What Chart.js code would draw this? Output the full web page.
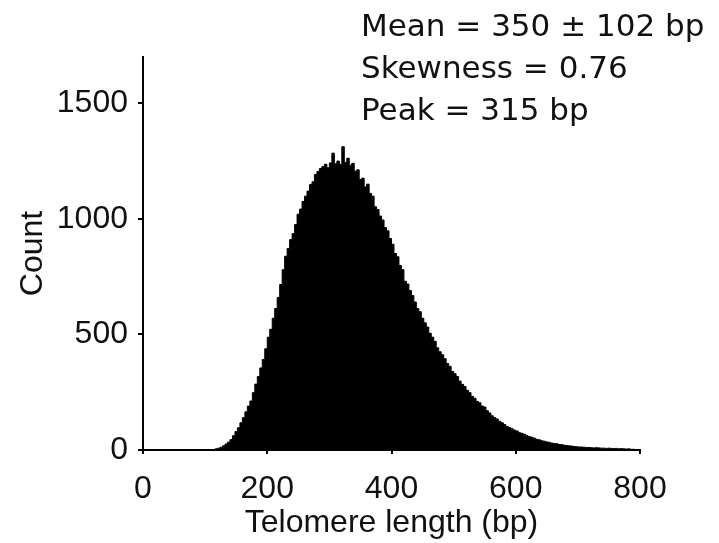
<!DOCTYPE html>
<html>
<head>
<meta charset="utf-8">
<script src="https://cdn.jsdelivr.net/npm/chart.js@4"></script>
<style>
  html, body { margin: 0; padding: 0; background: #fff; }
  #wrap { width: 719px; height: 543px; }
</style>
</head>
<body>
<div id="wrap"><canvas id="telomereHist"></canvas></div>
<script>
// Histogram bins (bp), left edge of first bin and bin width
const binStart = 112;
const binWidth = 4;

// Counts per bin
const counts = [
    2, 5, 8, 12, 18, 26, 34, 45, 62, 80,
    96, 118, 140, 165, 190, 212, 248, 285, 318, 355,
    392, 438, 488, 522, 570, 612, 660, 716, 780, 838,
    872, 910, 936, 975, 1020, 1042, 1075, 1098, 1120, 1148,
    1160, 1192, 1205, 1218, 1226, 1236, 1221, 1242, 1284, 1238,
    1250, 1236, 1312, 1244, 1262, 1232, 1240, 1206, 1212, 1170,
    1176, 1138, 1150, 1110, 1098, 1052, 1040, 1012, 995, 962,
    948, 915, 890, 850, 836, 798, 780, 730, 718, 690,
    668, 640, 612, 598, 570, 550, 532, 505, 488, 470,
    442, 425, 412, 395, 374, 362, 340, 330, 318, 298,
    284, 275, 258, 248, 232, 224, 210, 204, 190, 186,
    170, 160, 148, 140, 134, 124, 118, 110, 102, 97,
    92, 86, 82, 75, 72, 68, 62, 58, 55, 51,
    46, 44, 40, 38, 35, 33, 30, 28, 27, 24,
    23, 21, 19, 18, 17, 15, 14, 13, 13, 12,
    11, 11, 10, 9, 10, 9, 8, 8, 7, 8,
    7, 6, 7, 5, 6, 5, 4, 5, 3, 3,
    2, 2
];

// Axis ticks
const xTicks = [0, 200, 400, 600, 800];
const yTicks = [0, 500, 1000, 1500];

// Summary text in the top right
const statsLines = ['Mean = 350 \u00b1 102 bp', 'Skewness = 0.76', 'Peak = 315 bp'];

// Build step points: one per bin left edge, plus the closing edge
const histPoints = counts.map((c, i) => ({ x: binStart + i * binWidth, y: c }));
histPoints.push({ x: binStart + counts.length * binWidth, y: 0 });

const FONT = "'Liberation Sans', Arial, Helvetica, sans-serif";

// Stats text plugin
const statsText = {
    id: 'statsText',
    afterDraw(chart) {
        const ctx = chart.ctx;
        ctx.save();
        ctx.fillStyle = '#111';
        ctx.font = "31px 'DejaVu Sans', sans-serif";
        ctx.textAlign = 'left';
        ctx.textBaseline = 'alphabetic';
        const baselines = [36, 78, 120];
        statsLines.forEach((t, i) => ctx.fillText(t, 361, baselines[i]));
        ctx.restore();
    }
};

const histConfig = {
    type: 'line',
    data: {
        datasets: [{
            label: 'Count',
            data: histPoints,
            stepped: 'before',
            fill: 'origin',
            backgroundColor: '#000',
            borderColor: '#000',
            borderWidth: 1,
            pointRadius: 0,
        }]
    },
    options: {
        responsive: true,
        maintainAspectRatio: false,
        animation: false,
        layout: {
            padding: { top: 57, right: 79, left: 0, bottom: 0 }
        },
        plugins: {
            legend: { display: false },
            tooltip: { enabled: false }
        },
        scales: {
            x: {
                type: 'linear',
                min: 0,
                max: 800,
                afterFit: scale => { scale.height = 93; },
                afterBuildTicks: scale => { scale.ticks = xTicks.map(v => ({ value: v })); },
                border: { display: true, color: '#000', width: 2 },
                grid: { drawOnChartArea: false, drawTicks: true, tickLength: 4, color: '#000', lineWidth: 2 },
                ticks: {
                    color: '#111',
                    padding: 16,
                    maxRotation: 0,
                    callback: v => String(v),
                    font: { family: FONT, size: 32 }
                },
                title: {
                    display: true,
                    text: 'Telomere length (bp)',
                    color: '#111',
                    padding: { top: 0, bottom: 1 },
                    font: { family: FONT, size: 32 }
                }
            },
            y: {
                type: 'linear',
                min: 0,
                max: 1700,
                afterFit: scale => { scale.width = 143; },
                afterBuildTicks: scale => { scale.ticks = yTicks.map(v => ({ value: v })); },
                border: { display: true, color: '#000', width: 2 },
                grid: { drawOnChartArea: false, drawTicks: true, tickLength: 5, color: '#000', lineWidth: 2 },
                ticks: {
                    color: '#111',
                    padding: 10,
                    callback: v => String(v),
                    font: { family: FONT, size: 32 }
                },
                title: {
                    display: true,
                    text: 'Count',
                    color: '#111',
                    padding: { top: 14, bottom: 0 },
                    font: { family: FONT, size: 32 }
                }
            }
        }
    },
    plugins: [statsText]
};

const telomereChart = new Chart(
    document.getElementById('telomereHist'),
    histConfig
);
</script>
</body>
</html>
